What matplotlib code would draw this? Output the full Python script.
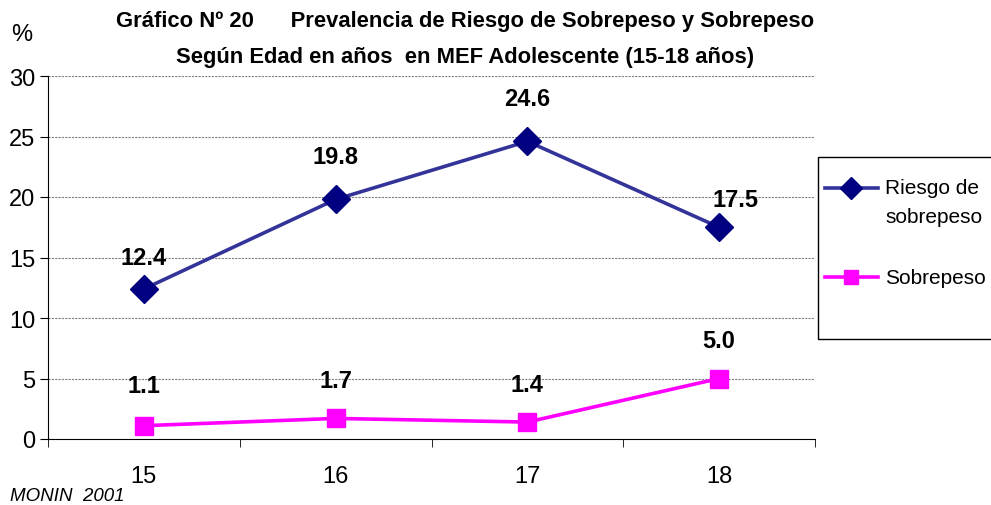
import matplotlib.pyplot as plt
from matplotlib.lines import Line2D
from matplotlib.patches import Rectangle

edades = ["15", "16", "17", "18"]
riesgo = [12.4, 19.8, 24.6, 17.5]
sobrepeso = [1.1, 1.7, 1.4, 5.0]
yticks = [0, 5, 10, 15, 20, 25, 30]

plt.rcParams["font.family"] = ["Liberation Sans", "DejaVu Sans"]

W, H = 991, 506
fig = plt.figure(figsize=(W / 100, H / 100), dpi=100)
ax = fig.add_axes([48 / W, 1 - 440 / H, (815 - 48) / W, (440 - 77) / H])

x = list(range(len(edades)))
ax.plot(x, riesgo, color="#333399", lw=2.6, marker="D", ms=14,
        mfc="#000080", mec="#000080", zorder=3)
ax.plot(x, sobrepeso, color="#FF00FF", lw=2.6, marker="s", ms=13.5,
        mfc="#FF00FF", mec="#FF00FF", zorder=3)

# etiquetas de datos
offs_r = [(0, 23), (0, 31), (0, 31), (12, 20)]
offs_s = [(0, 29), (0, 27), (0, 27), (0, 27)]
for i, v in enumerate(riesgo):
    ax.annotate(f"{v:.1f}", (i, v), xytext=offs_r[i], textcoords="offset points",
                ha="center", va="center", fontsize=17, fontweight="bold")
for i, v in enumerate(sobrepeso):
    ax.annotate(f"{v:.1f}", (i, v), xytext=offs_s[i], textcoords="offset points",
                ha="center", va="center", fontsize=17, fontweight="bold")

ax.set_xlim(-0.5, 3.5)
ax.set_ylim(0, 30)
ax.set_yticks(yticks)
ax.set_yticklabels([str(t) for t in yticks], fontsize=17)
ax.set_xticks(x)
ax.set_xticklabels(edades, fontsize=17)
ax.set_xticks([-0.5, 0.5, 1.5, 2.5, 3.5], minor=True)
ax.tick_params(axis="x", which="major", length=0, pad=19)
ax.tick_params(axis="x", which="minor", length=6, direction="out")
ax.tick_params(axis="y", length=6, direction="out", pad=3)
for t in yticks[1:]:
    ax.axhline(t, color="#808080", lw=0.8, ls=(0, (2, 1)), zorder=0)
ax.spines["top"].set_visible(False)
ax.spines["right"].set_visible(False)

fig.text(22 / W, 1 - 35 / H, "%", fontsize=17, ha="center", va="center")
fig.text(465 / W, 1 - 22 / H,
         "Gráfico Nº 20      Prevalencia de Riesgo de Sobrepeso y Sobrepeso",
         fontsize=15.8, fontweight="bold", ha="center", va="center")
fig.text(465 / W, 1 - 58 / H,
         "Según Edad en años  en MEF Adolescente (15-18 años)",
         fontsize=15.8, fontweight="bold", ha="center", va="center")
fig.text(10 / W, 1 - 497 / H, "MONIN  2001", fontsize=13.5, style="italic",
         ha="left", va="center")

# leyenda
fig.patches.append(Rectangle((818 / W, 1 - 340 / H), 200 / W, 182 / H,
                             transform=fig.transFigure, fill=False,
                             edgecolor="black", lw=1.0))
fig.add_artist(Line2D([825 / W, 878 / W], [1 - 189 / H] * 2,
                      transform=fig.transFigure, color="#333399", lw=2.6))
fig.add_artist(Line2D([851 / W], [1 - 189 / H], transform=fig.transFigure,
                      marker="D", ms=11, mfc="#000080", mec="#000080", lw=0))
fig.add_artist(Line2D([825 / W, 878 / W], [1 - 278 / H] * 2,
                      transform=fig.transFigure, color="#FF00FF", lw=2.6))
fig.add_artist(Line2D([851 / W], [1 - 278 / H], transform=fig.transFigure,
                      marker="s", ms=10, mfc="#FF00FF", mec="#FF00FF", lw=0))
fig.text(885 / W, 1 - 188 / H, "Riesgo de", fontsize=15, ha="left", va="center")
fig.text(885 / W, 1 - 218 / H, "sobrepeso", fontsize=15, ha="left", va="center")
fig.text(885 / W, 1 - 278 / H, "Sobrepeso", fontsize=15, ha="left", va="center")

fig.savefig("out.png", dpi=100)
